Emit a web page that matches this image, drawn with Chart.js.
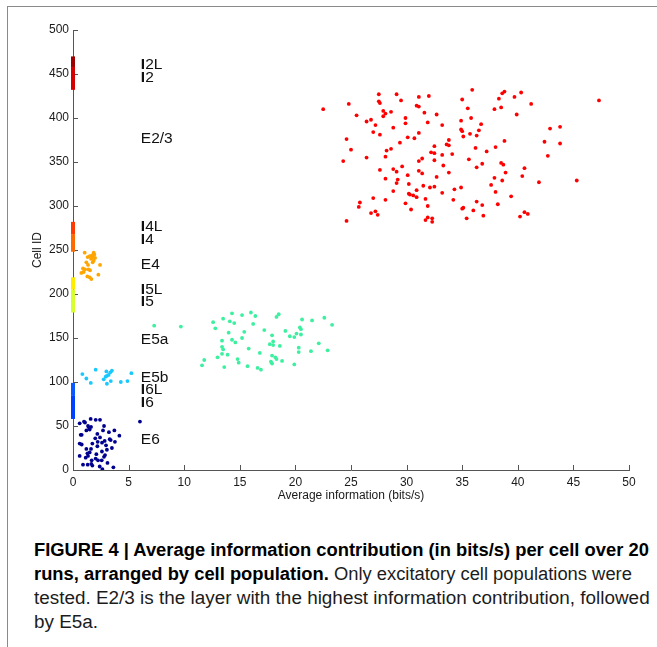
<!DOCTYPE html>
<html>
<head>
<meta charset="utf-8">
<script src="https://cdn.jsdelivr.net/npm/chart.js@4.4.1/dist/chart.umd.min.js"></script>
<style>
  body { margin: 0; background: #fff; width: 657px; height: 647px; overflow: hidden; position: relative;
         font-family: "Liberation Sans", Arial, sans-serif; }
  #frame { position: absolute; left: 7px; top: 6px; width: 700px; height: 700px;
           border-left: 1px solid #8a8a8a; border-top: 1px solid #8a8a8a; }
  #plot { position: absolute; left: 0; top: 0; }
  .cap { position: absolute; left: 34px; white-space: nowrap; font-size: 18px; line-height: 24px;
         color: #1c1c1c; transform-origin: 0 0; transform: scaleX(1.02); }
  .cap.wide { transform: scaleX(1.05); }
  .cap b { color: #000; }
</style>
</head>
<body>
<div id="frame"></div>
<canvas id="plot" width="657" height="522"></canvas>
<div class="cap" style="top:538px"><b>FIGURE 4 | Average information contribution (in bits/s) per cell over 20</b></div>
<div class="cap" style="top:562px"><b>runs, arranged by cell population.</b> Only excitatory cell populations were</div>
<div class="cap wide" style="top:586px">tested. E2/3 is the layer with the highest information contribution, followed</div>
<div class="cap wide" style="top:610px">by E5a.</div>
<script>
// average information (bits/s) and cell id for each excitatory population
const e23Info = [24.8,27.5,29.1,31.1,32.0,27.5,27.6,29.5,27.9,28.1,28.6,27.9,25.5,26.4,26.8,27.2,30.9,31.1,31.6,32.7,
  29.9,29.9,31.9,33.2,28.8,27.0,27.6,31.1,30.1,30.7,29.4,24.6,25.0,24.3,26.4,28.2,28.6,28.1,32.5,32.2,
  32.5,33.6,33.8,33.8,33.2,34.1,31.1,31.4,32.5,33.3,27.6,28.8,29.1,29.6,31.1,31.4,33.8,30.1,28.1,29.2,
  29.1,32.7,30.2,31.5,32.1,32.5,30.9,28.8,30.2,30.3,30.6,30.9,33.2,34.3,34.9,27.0,28.1,25.8,25.7,26.8,
  27.2,27.4,29.9,30.4,31.7,31.9,34.2,31.9,31.7,32.3,32.3,24.6,35.0,35.1,35.4,36.0,36.3,36.8,36.9,38.2,
  39.4,38.0,37.6,37.9,38.6,38.9,38.5,38.7,36.3,36.8,35.6,36.2,37.2,38.0,38.8,35.1,35.7,36.3,34.9,35.0,
  36.5,36.7,35.8,34.9,35.5,35.0,35.9,38.3,38.6,38.8,37.9,38.5,39.7,40.3,41.2,39.9,42.9,43.8,42.4,43.8,
  42.7,40.6,40.4,41.9,45.3,47.3,40.2,40.6,40.9,22.5];
const e23Ids = [416,427,427,424,425,419,417,420,408,405,407,402,403,396,398,392,414,413,406,404,
  400,394,395,392,389,384,381,383,378,377,372,376,364,351,355,363,365,356,368,361,
  360,370,369,375,358,359,351,354,352,346,341,342,339,345,340,337,338,335,331,330,
  326,333,325,323,321,322,318,317,314,313,312,310,315,319,321,309,307,304,299,292,
  294,290,303,296,308,300,307,287,284,286,282,283,297,298,286,295,305,301,289,302,
  311,316,324,332,329,338,349,347,344,348,353,366,362,367,374,379,382,380,387,385,
  386,393,400,397,411,421,432,422,428,430,410,412,424,429,416,404,388,390,373,371,
  357,343,334,327,329,420,288,293,291,410];

const e4Info = [1.05,1.32,1.5,1.71,1.86,1.77,1.92,1.62,1.86,2.43,1.2,1.35,0.9,0.75,0.96,1.08,1.38,1.53,1.29,1.5,
  1.65,2.28,1.77,1.98];
const e4Ids = [247,242,243,244,247,242,245,240,238,233,236,233,229,224,225,228,228,227,220,219,
  217,222,236,241];

const e5aInfo = [7.3,9.7,12.6,12.8,13.5,14.3,14.1,14.5,15.2,16.0,16.4,16.2,18.3,18.5,17.2,20.6,21.5,22.6,23.3,20.4,
  20.5,20.5,20.1,19.9,19.5,19.1,14.0,15.4,15.2,14.3,14.6,13.4,13.4,13.5,13.4,13.0,11.8,11.6,13.6,13.9,
  14.8,14.9,15.7,15.8,16.6,16.9,16.8,17.7,18.0,18.0,17.9,18.6,17.9,18.2,18.3,17.8,17.9,18.8,19.9,20.3,
  20.3,21.4,22.1,22.9];
const e5aIds = [164,163,168,161,172,178,169,167,176,179,175,166,174,177,159,171,170,173,165,162,
  160,154,155,151,152,158,156,157,150,148,145,147,140,137,132,128,125,119,117,131,
  126,122,118,138,116,114,133,143,142,146,153,141,130,128,126,123,121,124,120,139,
  134,135,144,136];

const e5bInfo = [0.84,1.2,2.04,1.6,2.76,2.94,3.05,3.0,3.2,3.36,3.5,3.05,3.4,4.3,4.9,5.25];
const e5bIds = [109,104,114,99,103,106,107,112,108,111,113,98,101,100,101,110];

const e6Info = [0.6,0.99,1.59,2.04,2.43,1.35,1.44,1.62,1.5,1.2,0.69,2.19,2.7,2.79,3.23,3.72,4.17,2.43,2.85,3.3,
  3.39,3.77,1.74,2.22,2.19,2.97,3.05,3.5,2.61,0.6,0.78,1.2,1.62,1.5,0.6,1.35,1.14,2.1,2.79,2.88,
  2.58,1.68,2.04,1.65,1.32,1.74,2.4,2.64,3.63,2.25,6.02,1.08,0.78,2.0,1.3,2.6,3.1,0.9];
const e6Ids = [53,55,58,57,57,50,48,49,46,45,40,41,45,50,43,45,39,37,33,35,
  34,32,30,32,27,28,23,25,31,30,29,24,24,20,16,16,14,18,15,17,
  11,11,13,7,6,5,4,1,3,11,55,54,40,36,19,21,8,6];

// inhibitory populations sit at zero information, one thick band each along the id axis
const inhibNames = ['I2L','I2','I4L','I4','I5L','I5','I6L','I6'];
const inhibLow  = [458,432,268,248,205,179,85,58];
const inhibHigh = [470,458,282,268,219,205,99,85];

// population names written beside the axis
const popNames = ['I2L','I2','E2/3','I4L','I4','E4','I5L','I5','E5a','E5b','I6L','I6','E6'];
const popIds   = [461,446,376,276,262,233,205,191,148,105,91,77,34];
const popInfo  = 6.1;

const FONT = '"Liberation Sans", Arial, Helvetica, sans-serif';
const inhibColors = ['#9c0000','#d40000','#ff3a00','#ff6a00','#ffec00','#d6ff2e','#0a58ff','#0040ff'];

const pts = (xs, ys) => xs.map((v, i) => ({ x: v, y: ys[i] }));

const scatterSet = (label, xs, ys, color) => ({
  type: 'scatter', label, data: pts(xs, ys),
  backgroundColor: color, borderWidth: 0, pointRadius: 1.9, pointHoverRadius: 1.9
});

const datasets = [
  scatterSet('E2/3', e23Info, e23Ids, '#ff0000'),
  scatterSet('E4', e4Info, e4Ids, '#ffa500'),
  scatterSet('E5a', e5aInfo, e5aIds, '#3cf0a0'),
  scatterSet('E5b', e5bInfo, e5bIds, '#19c8ff'),
  scatterSet('E6', e6Info, e6Ids, '#00008f')
];
inhibNames.forEach((name, i) => {
  datasets.push({
    type: 'line', label: name,
    data: [{ x: 0, y: inhibLow[i] }, { x: 0, y: inhibHigh[i] }],
    borderColor: inhibColors[i], borderWidth: 4, borderCapStyle: 'butt',
    pointRadius: 0, clip: false
  });
});

// MATLAB style ticks pointing into the plot
const inwardTicks = {
  id: 'inwardTicks',
  beforeDatasetsDraw(chart) {
    const { ctx, scales: { x, y } } = chart;
    ctx.save();
    ctx.strokeStyle = '#555';
    ctx.lineWidth = 1;
    ctx.beginPath();
    x.ticks.forEach(t => {
      const px = Math.round(x.getPixelForValue(t.value)) + 0.5;
      ctx.moveTo(px, y.bottom);
      ctx.lineTo(px, y.bottom - 5);
    });
    y.ticks.forEach(t => {
      const py = Math.round(y.getPixelForValue(t.value)) + 0.5;
      ctx.moveTo(x.left, py);
      ctx.lineTo(x.left + 5, py);
    });
    ctx.stroke();
    ctx.restore();
  }
};

const popLabels = {
  id: 'popLabels',
  afterDatasetsDraw(chart) {
    const { ctx, scales: { x, y } } = chart;
    ctx.save();
    ctx.textBaseline = 'middle';
    ctx.textAlign = 'left';
    ctx.fillStyle = '#111';
    popNames.forEach((name, i) => {
      let px = x.getPixelForValue(popInfo);
      const py = y.getPixelForValue(popIds[i]);
      if (name[0] === 'I') {
        ctx.font = 'bold 15.5px ' + FONT;
        ctx.fillText('I', px, py);
        px += ctx.measureText('I').width;
        name = name.slice(1);
      }
      ctx.font = '15.5px ' + FONT;
      ctx.fillText(name, px, py);
    });
    ctx.restore();
  }
};

const tickFont = { family: FONT, size: 12 };

new Chart(document.getElementById('plot'), {
  type: 'scatter',
  data: { datasets },
  options: {
    responsive: false,
    animation: false,
    events: [],
    layout: { padding: { top: 30, right: 28, left: 0, bottom: 0 } },
    plugins: { legend: { display: false }, tooltip: { enabled: false } },
    scales: {
      x: {
        type: 'linear', position: 'bottom', min: 0, max: 50,
        ticks: { stepSize: 5, padding: 5, color: '#1a1a1a', font: tickFont, maxRotation: 0 },
        grid: { drawOnChartArea: false, drawTicks: false },
        border: { color: '#555', width: 1 },
        title: { display: true, text: 'Average information (bits/s)', color: '#1a1a1a',
                 font: tickFont, padding: { top: 0, bottom: 19 } },
        afterFit(s) { s.height = 52; }
      },
      y: {
        type: 'linear', position: 'left', min: 0, max: 500,
        ticks: { stepSize: 50, padding: 4, color: '#1a1a1a', font: tickFont },
        grid: { drawOnChartArea: false, drawTicks: false },
        border: { color: '#555', width: 1 },
        title: { display: true, text: 'Cell ID', color: '#1a1a1a',
                 font: tickFont, padding: { top: 30, bottom: 0 } },
        afterFit(s) { s.width = 73; }
      }
    }
  },
  plugins: [inwardTicks, popLabels]
});
</script>
</body>
</html>
